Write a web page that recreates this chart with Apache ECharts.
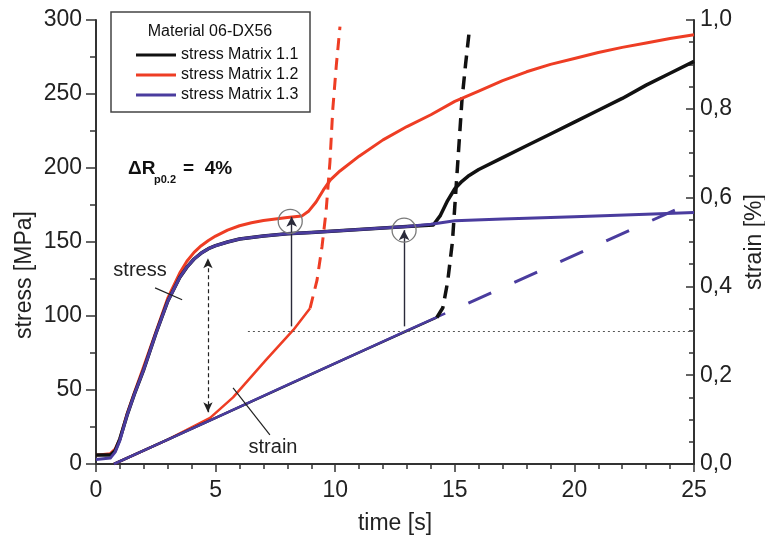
<!DOCTYPE html>
<html>
<head>
<meta charset="utf-8">
<script src="https://cdn.jsdelivr.net/npm/echarts@6/dist/echarts.min.js"></script>
<style>
  html, body { margin: 0; padding: 0; background: #fff; }
  #chart { width: 765px; height: 542px; }
</style>
</head>
<body>
<div id="chart"></div>
<script>
// stress curves (left axis, MPa)
var stress11T = [0, 0.6, 0.8, 1.0, 1.3, 1.6, 2.0, 2.5, 3.0, 3.5, 3.8, 4.1, 4.4, 4.7, 5.0, 5.5, 6.0, 7.0, 8.0, 9.0, 10, 11, 12, 13, 14.1, 14.4, 14.7, 15.0, 15.3, 15.6, 16, 17, 18, 19, 20, 21, 22, 23, 24, 25];
var stress11 = [6, 6, 9, 17, 33, 47, 64, 88, 110, 126, 133, 138.5, 142.5, 145.5, 147.5, 150, 152, 154, 155.5, 156.5, 157.5, 158.5, 159.5, 160.5, 161.5, 168, 178, 186, 191, 195, 199, 207, 215, 223, 231, 239, 247, 256, 264, 272];
var stress12T = [0, 0.6, 0.8, 1.0, 1.3, 1.6, 2.0, 2.5, 3.0, 3.5, 3.8, 4.1, 4.4, 4.7, 5.0, 5.5, 6.0, 6.5, 7.0, 8.0, 8.6, 8.9, 9.2, 9.5, 9.8, 10.2, 11, 12, 13, 14, 15, 16, 17, 18, 19, 20, 21, 22, 23, 24, 25];
var stress12 = [6, 7, 10, 17, 34, 48, 66, 89, 112, 129, 137, 143, 147.5, 151, 154, 158, 161, 163, 164.5, 166.5, 167.5, 171, 177, 185, 192, 198, 208, 219, 228, 236, 245, 252, 259, 265, 270, 274, 278, 281.5, 284.5, 287.5, 290];
var stress13T = [0, 0.6, 0.8, 1.0, 1.3, 1.6, 2.0, 2.5, 3.0, 3.5, 3.8, 4.1, 4.4, 4.7, 5.0, 5.5, 6.0, 7.0, 8.0, 9.0, 10, 11, 12, 13, 14, 15, 17, 20, 23, 25];
var stress13 = [3, 4, 8, 16, 33, 47, 64, 88, 110, 126, 133, 138.5, 142.5, 145.5, 147.5, 150, 152, 154, 155.5, 156.5, 157.5, 158.5, 159.5, 160.5, 162, 164.3, 165.5, 167, 168.8, 170];

// strain curves (right axis, %), solid part then dashed part
var strain11T = [0.75, 5, 10.5, 14.25];
var strain11 = [0, 0.104, 0.239, 0.33];
var strain11dT = [14.25, 14.5, 14.7, 14.9, 15.0, 15.15, 15.3, 15.45, 15.6];
var strain11d = [0.33, 0.352, 0.41, 0.5, 0.58, 0.7, 0.82, 0.9, 0.973];
var strain12T = [0.75, 3, 4.77, 5.73, 7.1, 8.25, 8.95];
var strain12 = [0, 0.055, 0.104, 0.15, 0.234, 0.302, 0.351];
var strain12dT = [8.95, 9.24, 9.45, 9.62, 9.78, 9.9, 10.05, 10.2];
var strain12d = [0.351, 0.414, 0.49, 0.57, 0.68, 0.8, 0.9, 0.985];
var strain13T = [0.75, 3, 5, 8, 10.5, 12.9, 14.6];
var strain13 = [0, 0.055, 0.104, 0.178, 0.239, 0.298, 0.339];
var strain13dT = [14.6, 24.2];
var strain13d = [0.339, 0.572];

var names = ['stress Matrix 1.1', 'stress Matrix 1.2', 'stress Matrix 1.3'];

var cBlack = '#111111', cRed = '#ee3d24', cPurple = '#4a3c9e';
var font = 'Liberation Sans, Arial, sans-serif';

function zip(t, v) {
    var out = [];
    for (var i in t) {
        out.push([t[i], v[i]]);
    }
    return out;
}

function lineSeries(name, t, v, color, yIdx, dash, width, dashOffset) {
    return {
        name: name,
        type: 'line',
        yAxisIndex: yIdx,
        data: zip(t, v),
        showSymbol: false,
        symbol: 'none',
        smooth: false,
        lineStyle: { color: color, width: width || 3, type: dash || 'solid', dashOffset: dashOffset || 0, join: 'round', cap: 'butt' },
        itemStyle: { color: color },
        animation: false,
        silent: true
    };
}

var chart = echarts.init(document.getElementById('chart'), null, { renderer: 'canvas' });

var annotate = {
    name: 'annot',
    type: 'line',
    yAxisIndex: 0,
    data: [],
    silent: true,
    animation: false,
    markLine: {
        silent: true,
        animation: false,
        symbol: 'none',
        label: { show: false },
        data: [
            // dotted level line at strain 0.3
            [{ coord: [6.35, 90], lineStyle: { color: '#555', width: 1, type: [2, 3] } }, { coord: [25, 90] }],
            // arrows to the circled points
            [{ coord: [8.18, 93], lineStyle: { color: '#2a2a3a', width: 1.4, type: 'solid' } }, { coord: [8.18, 167], symbol: 'arrow', symbolSize: [8, 10] }],
            [{ coord: [12.88, 93], lineStyle: { color: '#2a2a3a', width: 1.4, type: 'solid' } }, { coord: [12.88, 158], symbol: 'arrow', symbolSize: [8, 10] }],
            // dashed double arrow
            [{ coord: [4.68, 35], symbol: 'arrow', symbolSize: [7, 10], lineStyle: { color: '#222', width: 1.2, type: [4, 3] } }, { coord: [4.68, 139], symbol: 'arrow', symbolSize: [7, 10] }],
            // pointer marks for 'stress' and 'strain'
            [{ coord: [2.47, 119], lineStyle: { color: '#222', width: 1.2, type: 'solid' } }, { coord: [3.6, 111] }],
            [{ coord: [5.73, 51.4], lineStyle: { color: '#222', width: 1.2, type: 'solid' } }, { coord: [7.27, 19.6] }]
        ]
    },
    markPoint: {
        silent: true,
        animation: false,
        symbol: 'circle',
        symbolSize: 24,
        label: { show: false },
        itemStyle: { color: 'rgba(0,0,0,0)', borderColor: '#7a7a7a', borderWidth: 1.3 },
        data: [
            { coord: [8.12, 164] },
            { coord: [12.88, 158] }
        ]
    }
};

var option = {
    backgroundColor: '#fff',
    textStyle: { fontFamily: font },
    grid: { left: 96, right: 71, top: 20, bottom: 78, outerBoundsMode: 'none', containLabel: false },
    legend: {
        data: names,
        orient: 'vertical',
        left: 131,
        top: 42,
        itemGap: 4,
        itemWidth: 40,
        itemHeight: 3,
        icon: 'rect',
        selectedMode: false,
        textStyle: { fontSize: 16, color: '#111', fontFamily: font }
    },
    xAxis: {
        type: 'value',
        min: 0,
        max: 25,
        interval: 5,
        name: 'time [s]',
        nameLocation: 'middle',
        nameGap: 48,
        nameTextStyle: { fontSize: 23, color: '#222', fontFamily: font },
        axisLine: { show: true, lineStyle: { color: '#333', width: 2 } },
        axisTick: { show: true, length: 8, lineStyle: { color: '#333', width: 1.5 } },
        minorTick: { show: true, splitNumber: 5, length: 5, lineStyle: { color: '#333', width: 1.5 } },
        splitLine: { show: false },
        axisLabel: { fontSize: 23, color: '#222', margin: 15, fontFamily: font }
    },
    yAxis: [
        {
            type: 'value',
            min: 0,
            max: 300,
            interval: 50,
            position: 'left',
            axisLine: { show: true, lineStyle: { color: '#333', width: 2 } },
            axisTick: { show: true, length: 10, lineStyle: { color: '#333', width: 1.5 } },
            minorTick: { show: true, splitNumber: 2, length: 6, lineStyle: { color: '#333', width: 1.5 } },
            splitLine: { show: false },
            axisLabel: { fontSize: 23, color: '#222', margin: 14, fontFamily: font }
        },
        {
            type: 'value',
            min: 0,
            max: 1,
            interval: 0.2,
            position: 'right',
            name: 'strain [%]',
            nameLocation: 'middle',
            nameGap: 47,
            nameTextStyle: { fontSize: 23, color: '#222', fontFamily: font },
            axisLine: { show: true, lineStyle: { color: '#333', width: 2 } },
            axisTick: { show: true, inside: true, length: 8, lineStyle: { color: '#333', width: 1.5 } },
            minorTick: { show: true, splitNumber: 4, length: 5, lineStyle: { color: '#333', width: 1.5 } },
            splitLine: { show: false },
            axisLabel: {
                fontSize: 23, color: '#222', margin: 6, fontFamily: font,
                formatter: function (v) { return v.toFixed(1).replace('.', ','); }
            }
        }
    ],
    graphic: [
        // legend frame and title
        { type: 'rect', shape: { x: 111, y: 12, width: 199, height: 100 }, style: { fill: 'none', stroke: '#444', lineWidth: 1.5 }, z: 10 },
        { type: 'text', x: 210, y: 32, style: { text: 'Material 06-DX56', font: '16px ' + font, fill: '#111', textAlign: 'center', textVerticalAlign: 'middle' }, z: 10 },
        // left axis name
        { type: 'text', x: 25, y: 275, rotation: Math.PI / 2, style: { text: 'stress [MPa]', font: '23px ' + font, fill: '#222', textAlign: 'center', textVerticalAlign: 'middle' } },
        // curve labels
        { type: 'text', x: 140, y: 270, style: { text: 'stress', font: '20px ' + font, fill: '#222', textAlign: 'center', textVerticalAlign: 'middle' } },
        { type: 'text', x: 273, y: 447, style: { text: 'strain', font: '20px ' + font, fill: '#222', textAlign: 'center', textVerticalAlign: 'middle' } },
        // delta R label
        { type: 'text', x: 128, y: 169, style: { text: '\u0394R', font: 'bold 19px ' + font, fill: '#111', textVerticalAlign: 'middle' } },
        { type: 'text', x: 154, y: 180, style: { text: 'p0.2', font: 'bold 11px ' + font, fill: '#111', textVerticalAlign: 'middle' } },
        { type: 'text', x: 183, y: 169, style: { text: '=  4%', font: 'bold 19px ' + font, fill: '#111', textVerticalAlign: 'middle' } }
    ],
    series: [
        lineSeries('strain 1.2', strain12T, strain12, cRed, 1, 'solid', 2.5),
        lineSeries('strain 1.1', strain11T, strain11, cBlack, 1, 'solid', 2.5),
        lineSeries('strain 1.3', strain13T, strain13, cPurple, 1, 'solid', 2.5),
        lineSeries('strain 1.2 d', strain12dT, strain12d, cRed, 1, [12, 8], 3),
        lineSeries('strain 1.1 d', strain11dT, strain11d, cBlack, 1, [13, 8], 3.5),
        lineSeries('strain 1.3 d', strain13dT, strain13d, cPurple, 1, [25, 25.4], 3, 25),
        lineSeries(names[1], stress12T, stress12, cRed, 0),
        lineSeries(names[0], stress11T, stress11, cBlack, 0, 'solid', 3.5),
        lineSeries(names[2], stress13T, stress13, cPurple, 0),
        annotate
    ]
};
chart.setOption(option);
</script>
</body>
</html>
